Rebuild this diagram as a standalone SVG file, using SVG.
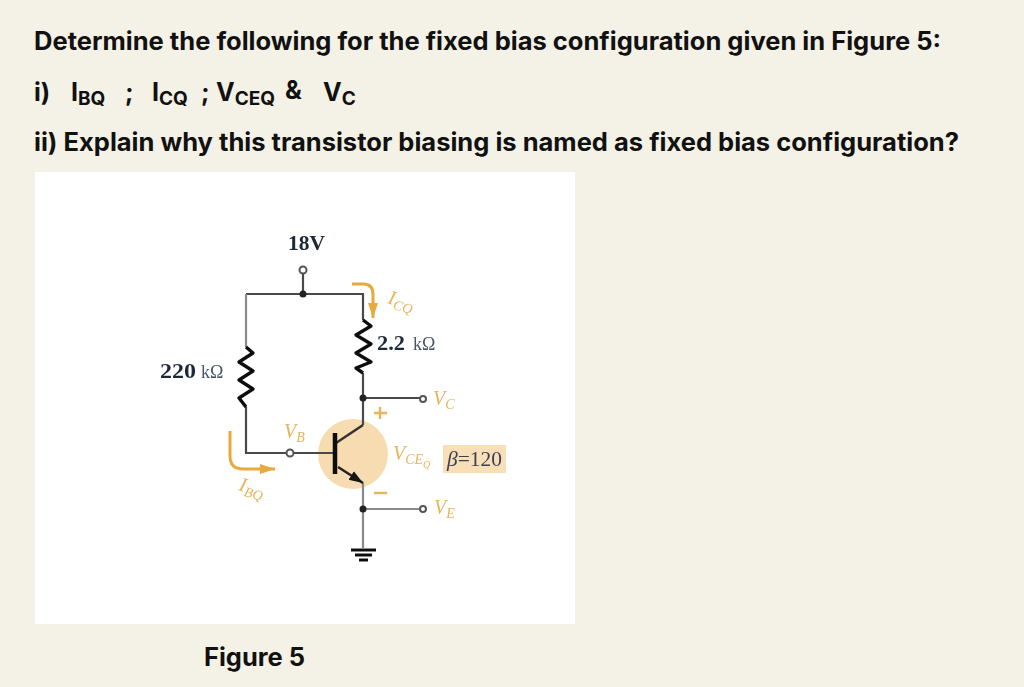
<svg xmlns="http://www.w3.org/2000/svg" width="1024" height="687" viewBox="0 0 1024 687">
<defs>
<filter id="soft" x="-5%" y="-5%" width="110%" height="110%"><feGaussianBlur stdDeviation="0.55"/></filter>
<marker id="orangeHead" markerUnits="userSpaceOnUse" markerWidth="16" markerHeight="12" refX="15" refY="6" orient="auto"><path d="M0 1L15 6L0 11z" fill="#e8a93c"/></marker>
<marker id="emitHead" markerUnits="userSpaceOnUse" markerWidth="16" markerHeight="12" refX="14" refY="6" orient="auto"><path d="M0 1L14 6L0 11z" fill="#141414"/></marker>
</defs>
<style>
.q{font:700 25px "Inter","Liberation Sans",sans-serif;fill:#111}
.c{font:700 20px "Liberation Serif",serif;fill:#1e2a38}
.k{font:400 18px "Liberation Serif",serif;fill:#4a5668}
.o{font:italic 400 20px "Liberation Serif",serif;fill:#e8b45c}
.s{font-size:14px}
.w{fill:none;stroke:#4a4a4a;stroke-width:2.200}
.g{fill:none;stroke:#8a8a8a;stroke-width:2.200}
.r{fill:none;stroke:#111;stroke-width:3.400;stroke-linejoin:round}
.a{fill:none;stroke:#e8a93c;stroke-width:3}
.t{fill:#fff;stroke:#555;stroke-width:2}
.p{stroke:#e8b45c;stroke-width:2.400;fill:none}
</style>
<rect width="1024" height="687" fill="#f4f1e6"/>
<rect x="35" y="172" width="540" height="452" fill="#fff"/>
<text class="q" x="34" y="50" textLength="907" lengthAdjust="spacingAndGlyphs">Determine the following for the fixed bias configuration given in Figure 5:</text>
<text class="q" x="34" y="101">i)</text>
<text class="q" x="71" y="101">I<tspan font-size="19" dy="4">BQ</tspan></text>
<text class="q" x="125" y="101" font-style="italic">;</text>
<text class="q" x="152" y="101">I<tspan font-size="19" dy="4">CQ</tspan></text>
<text class="q" x="201" y="101" font-style="italic">;</text>
<text class="q" x="216" y="101">V<tspan font-size="19" dy="4">CEQ</tspan></text>
<text class="q" x="285" y="99">&amp;</text>
<text class="q" x="323" y="101">V<tspan font-size="19" dy="4">C</tspan></text>
<text class="q" x="34" y="151" textLength="925" lengthAdjust="spacingAndGlyphs">ii) Explain why this transistor biasing is named as fixed bias configuration?</text>
<g filter="url(#soft)">
<circle id="transistor-disc" cx="353" cy="454" r="35" fill="#f6dcb0"/>
<g id="connectors">
<path class="w" d="M303 274V294M246 294H363V320"/>
<path class="g" d="M246 294V347"/>
<path class="w" d="M246 407V453H286M294 453H336"/>
<path class="w" d="M363 373V425"/>
<path class="w" d="M363 398H420"/>
<path class="g" d="M363 483V548M363 509H420"/>
</g>
<g id="transistor">
<path d="M363 425L336 443" stroke="#333" stroke-width="2.500" fill="none"/>
<path d="M335 433V474" stroke="#111" stroke-width="4.500" fill="none"/>
<path d="M338 467L363 483" stroke="#222" stroke-width="2.500" fill="none" marker-end="url(#emitHead)"/>
</g>
<g id="r-base">
<path class="r" d="M246 347L253 353L239 362L253 371L239 380L253 389L239 398L246 407"/>
<text class="c" x="160" y="378" textLength="36" lengthAdjust="spacingAndGlyphs">220</text><text class="k" x="201" y="378">kΩ</text>
</g>
<g id="r-collector">
<path class="r" d="M363 320L371 326L356 335L371 344L356 353L371 362L356 368L363 373"/>
<text class="c" x="377" y="350" textLength="28" lengthAdjust="spacingAndGlyphs">2.2</text><text class="k" x="413" y="350">kΩ</text>
</g>
<g id="supply"><circle class="t" cx="303" cy="270" r="3.500"/><circle cx="303" cy="294" r="3.500" fill="#222"/><text class="c" x="288" y="250" textLength="37" lengthAdjust="spacingAndGlyphs">18V</text></g>
<g id="vc"><circle cx="363" cy="398" r="3.500" fill="#222"/><circle class="t" cx="423" cy="399" r="3"/><text class="o" x="433" y="405">V<tspan class="s" dy="4">C</tspan></text></g>
<g id="ve"><circle cx="363" cy="509" r="3.500" fill="#222"/><circle class="t" cx="423" cy="509" r="3"/><text class="o" x="434" y="514">V<tspan class="s" dy="4">E</tspan></text></g>
<g id="vb"><circle class="t" cx="290" cy="453" r="3.500"/><text class="o" x="284" y="438">V<tspan class="s" dy="4">B</tspan></text></g>
<g id="icq"><path class="a" d="M352 284H363Q373 284 373 294V318" marker-end="url(#orangeHead)"/><text class="o" x="387" y="303" transform="rotate(16 387 303)">I<tspan class="s" dy="4">CQ</tspan></text></g>
<g id="ibq"><path class="a" d="M230 431V456Q230 469 243 469H275" marker-end="url(#orangeHead)"/><text class="o" x="238" y="490" transform="rotate(16 238 490)">I<tspan class="s" dy="4">BQ</tspan></text></g>
<g id="vceq"><text class="o" x="393" y="460">V<tspan class="s" dy="4">CE</tspan><tspan font-size="10" dy="4">Q</tspan></text><path class="p" d="M374 413H387M380 407V419"/><path class="p" d="M374 493H387"/></g>
<g id="beta"><rect x="443" y="445" width="63" height="28" fill="#f8dfb7"/><text x="447" y="466" font-family="'Liberation Serif',serif" font-size="20" fill="#3b4350" textLength="55" lengthAdjust="spacingAndGlyphs"><tspan font-style="italic">β</tspan>=120</text></g>
<g id="ground"><path d="M351 550H376M355 555H372M359 560H368" stroke="#111" stroke-width="2.800" fill="none"/></g>
</g>
<text class="q" x="204" y="666" textLength="101" lengthAdjust="spacingAndGlyphs">Figure 5</text>
</svg>
